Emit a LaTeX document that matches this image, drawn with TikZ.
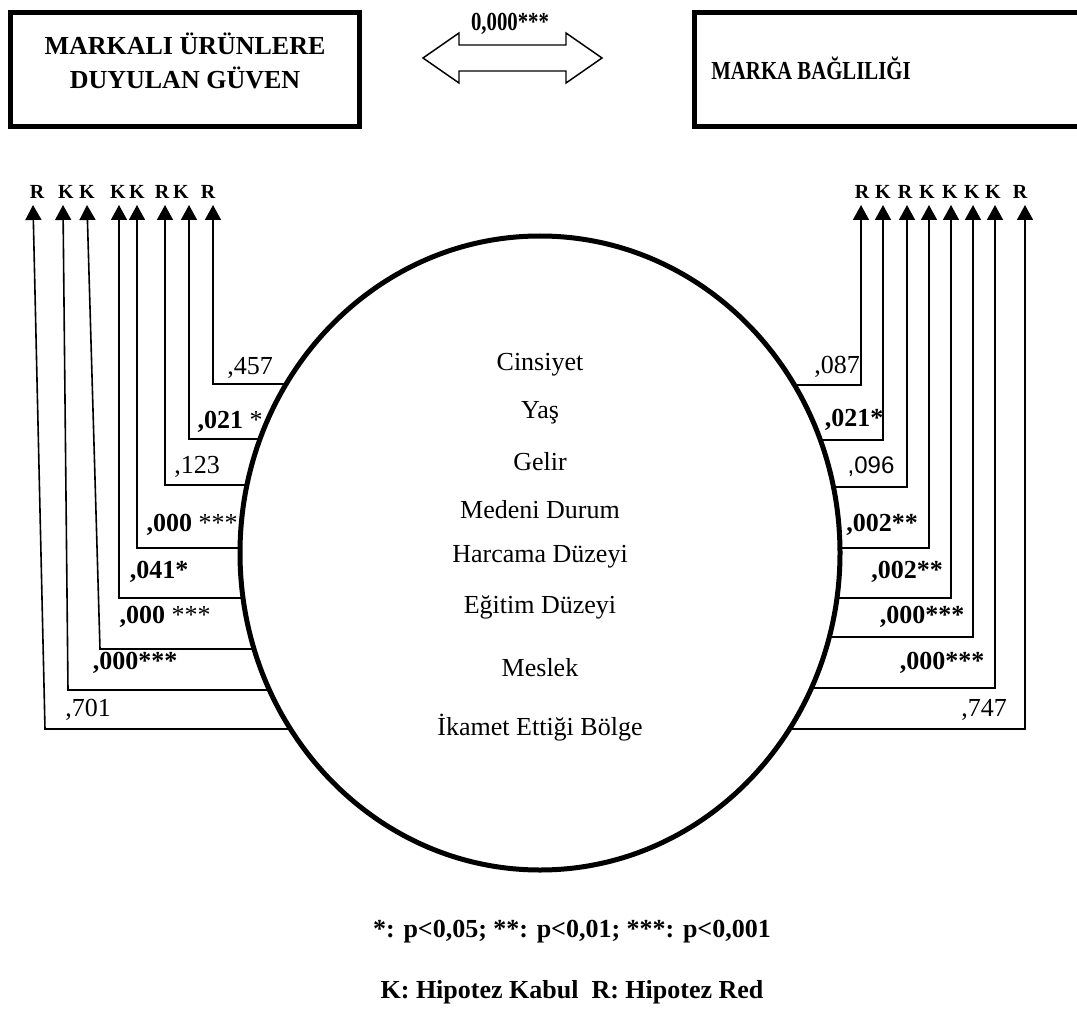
\documentclass[tikz,border=0pt]{standalone}
\usepackage{fontspec}
\usepackage{graphicx}
\setmainfont{Liberation Serif}
\newfontfamily\arialfont{Liberation Sans}
\usetikzlibrary{arrows.meta,shapes.geometric}

\begin{document}
\begin{tikzpicture}[x=0.75pt, y=-0.75pt,
  boxline/.style={line width=3.75pt},
  conn/.style={line width=1.2pt, -{Triangle[length=11.25pt, width=12pt]}},
  val/.style={inner sep=0pt, font=\fontsize{19.5}{22}\selectfont},
  valb/.style={inner sep=0pt, font=\fontsize{19.5}{22}\selectfont\bfseries},
  dec/.style={inner sep=0pt, font=\fontsize{15}{17}\selectfont\bfseries},
  var/.style={inner sep=0pt, font=\fontsize{19.5}{22}\selectfont}]
\useasboundingbox (0,0) rectangle (1077,1009);

% top boxes and the double arrow
\draw[boxline] (10.5,12.5) rectangle (359,127);
\node[valb, align=center] (trust) at (185,61) {MARKALI ÜRÜNLERE\\[3pt]DUYULAN GÜVEN};
\draw[boxline] (1080,12.5) -- (694,12.5) -- (694,126.5) -- (1080,126.5);
\node[valb] (loyal) at (811,68) {\scalebox{0.8}[1]{MARKA BAĞLILIĞI}};
\draw[line width=1.1pt] (423,58) -- (459,33) -- (459,45) -- (566,45) -- (566,33)
  -- (602,58) -- (566,83) -- (566,71) -- (459,71) -- (459,83) -- cycle;
\node[valb] (corr) at (510,24) {\scalebox{0.8}[1]{0,000***}};

% the circle and the variables
\node[draw, ellipse, line width=3.75pt, inner sep=0pt, minimum width=450pt, minimum height=475.5pt] (circ) at (540,553) {};
\node[var] (v1) at (540,365) {Cinsiyet};
\node[var] (v2) at (540,413) {Yaş};
\node[var] (v3) at (540,462) {Gelir};
\node[var] (v4) at (540,510) {Medeni Durum};
\node[var] (v5) at (540,557) {Harcama Düzeyi};
\node[var] (v6) at (540,607) {Eğitim Düzeyi};
\node[var] (v7) at (540,668) {Meslek};
\node[var] (v8) at (540,728) {İkamet Ettiği Bölge};

% left side: tips, corners, ends on the circle
\coordinate (tL1) at (213,205); \coordinate (cL1) at (213,384); \coordinate (eL1) at (286,384);
\coordinate (tL2) at (189,205); \coordinate (cL2) at (189,439); \coordinate (eL2) at (260,439);
\coordinate (tL3) at (165,205); \coordinate (cL3) at (165,485); \coordinate (eL3) at (247,485);
\coordinate (tL4) at (137,205); \coordinate (cL4) at (137,548); \coordinate (eL4) at (240,548);
\coordinate (tL5) at (119,205); \coordinate (cL5) at (119,598); \coordinate (eL5) at (243,598);
\coordinate (tL6) at (87,205);  \coordinate (cL6) at (100,649); \coordinate (eL6) at (254,649);
\coordinate (tL7) at (63,205);  \coordinate (cL7) at (68,690);  \coordinate (eL7) at (270,690);
\coordinate (tL8) at (33,205);  \coordinate (cL8) at (45,729);  \coordinate (eL8) at (290,729);
\draw[conn] (eL1) -- (cL1) -- (tL1);
\draw[conn] (eL2) -- (cL2) -- (tL2);
\draw[conn] (eL3) -- (cL3) -- (tL3);
\draw[conn] (eL4) -- (cL4) -- (tL4);
\draw[conn] (eL5) -- (cL5) -- (tL5);
\draw[conn] (eL6) -- (cL6) -- (tL6);
\draw[conn] (eL7) -- (cL7) -- (tL7);
\draw[conn] (eL8) -- (cL8) -- (tL8);
\node[val] (pL1) at (250,368) {,457};
\node[val] (pL2) at (230,422) {{\bfseries ,021} *};
\node[val] (pL3) at (197,467) {,123};
\node[val] (pL4) at (192,525) {{\bfseries ,000} ***};
\node[valb] (pL5) at (159,572) {,041*};
\node[val] (pL6) at (165,617) {{\bfseries ,000} ***};
\node[valb] (pL7) at (135,663) {,000***};
\node[val] (pL8) at (88,710) {,701};
\node[dec] (dL8) at (37,192) {R};
\node[dec] (dL7) at (66,192) {K};
\node[dec] (dL6) at (87,192) {K};
\node[dec] (dL5) at (118,192) {K};
\node[dec] (dL4) at (137,192) {K};
\node[dec] (dL3) at (162,192) {R};
\node[dec] (dL2) at (181,192) {K};
\node[dec] (dL1) at (208,192) {R};

% right side
\coordinate (tR1) at (861,205);  \coordinate (cR1) at (861,385);  \coordinate (eR1) at (794,385);
\coordinate (tR2) at (883,205);  \coordinate (cR2) at (883,440);  \coordinate (eR2) at (820,440);
\coordinate (tR3) at (907,205);  \coordinate (cR3) at (907,487);  \coordinate (eR3) at (833,487);
\coordinate (tR4) at (929,205);  \coordinate (cR4) at (929,548);  \coordinate (eR4) at (840,548);
\coordinate (tR5) at (951,205);  \coordinate (cR5) at (951,598);  \coordinate (eR5) at (837,598);
\coordinate (tR6) at (973,205);  \coordinate (cR6) at (973,637);  \coordinate (eR6) at (829,637);
\coordinate (tR7) at (995,205);  \coordinate (cR7) at (995,688);  \coordinate (eR7) at (811,688);
\coordinate (tR8) at (1025,205); \coordinate (cR8) at (1025,729); \coordinate (eR8) at (790,729);
\draw[conn] (eR1) -- (cR1) -- (tR1);
\draw[conn] (eR2) -- (cR2) -- (tR2);
\draw[conn] (eR3) -- (cR3) -- (tR3);
\draw[conn] (eR4) -- (cR4) -- (tR4);
\draw[conn] (eR5) -- (cR5) -- (tR5);
\draw[conn] (eR6) -- (cR6) -- (tR6);
\draw[conn] (eR7) -- (cR7) -- (tR7);
\draw[conn] (eR8) -- (cR8) -- (tR8);
\node[val] (pR1) at (837,367) {,087};
\node[valb] (pR2) at (854,420) {,021*};
\node[val, font=\fontsize{18}{20}\selectfont\arialfont] (pR3) at (871,467) {,096};
\node[valb] (pR4) at (882,525) {,002**};
\node[valb] (pR5) at (907,572) {,002**};
\node[valb] (pR6) at (922,617) {,000***};
\node[valb] (pR7) at (942,663) {,000***};
\node[val] (pR8) at (984,710) {,747};
\node[dec] (dR1) at (862,192) {R};
\node[dec] (dR2) at (883,192) {K};
\node[dec] (dR3) at (905,192) {R};
\node[dec] (dR4) at (927,192) {K};
\node[dec] (dR5) at (950,192) {K};
\node[dec] (dR6) at (972,192) {K};
\node[dec] (dR7) at (993,192) {K};
\node[dec] (dR8) at (1020,192) {R};

% legend
\node[valb] (sig) at (572,932) {*: p<0,05; **: p<0,01; ***: p<0,001};
\node[valb] (hyp) at (572,992) {K: Hipotez Kabul\ \ R: Hipotez Red};
\end{tikzpicture}
\end{document}
